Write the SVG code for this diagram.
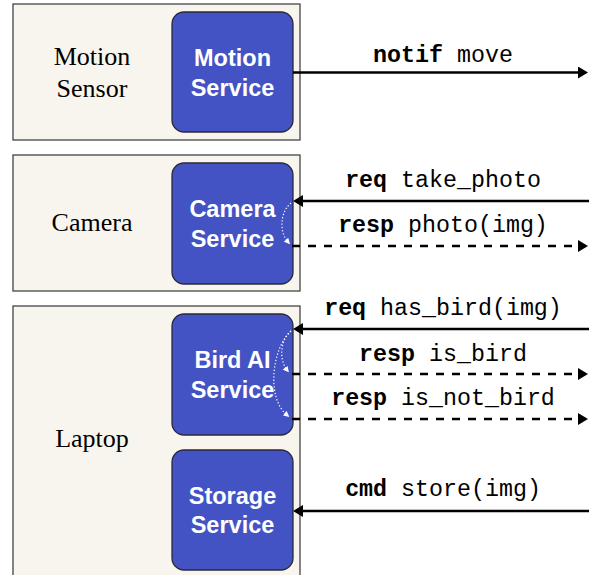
<svg xmlns="http://www.w3.org/2000/svg" width="589" height="575" viewBox="0 0 589 575">
<style>
.dev{fill:#f8f5ee;stroke:#444;stroke-width:1.3}
.svc{fill:#4353c4;stroke:#2a2a3a;stroke-width:1.3}
.dl{font-family:"Liberation Serif","Times New Roman",serif;font-size:26px;fill:#000;text-anchor:middle}
.sl{font-family:"Liberation Sans",Arial,sans-serif;font-weight:bold;font-size:23.5px;fill:#fff;text-anchor:middle}
.ml{font-family:"Liberation Mono","Courier New",monospace;font-size:23.3px;fill:#000;text-anchor:middle}
.b{font-weight:bold}
.ar{stroke:#000;stroke-width:2.6;fill:none;marker-end:url(#ah)}
.da{stroke-dasharray:8 8}
.loop{stroke:#fff;stroke-width:1.2;fill:none;stroke-dasharray:1.3 2;marker-end:url(#wh)}
</style>
<defs>
<marker id="ah" viewBox="0 0 10 12" refX="2" refY="6" markerWidth="10" markerHeight="12" orient="auto" markerUnits="userSpaceOnUse">
<path d="M0,0 L10,6 L0,12 z" fill="#000"/>
</marker>
<marker id="wh" viewBox="0 0 6 6" refX="3" refY="3" markerWidth="6" markerHeight="6" orient="auto" markerUnits="userSpaceOnUse">
<path d="M0,0 L6,3 L0,6 z" fill="#fff"/>
</marker>
</defs>

<g id="motion-sensor">
<rect class="dev" x="13" y="4" width="287" height="136"/>
<text class="dl" x="92" y="65">Motion</text>
<text class="dl" x="92" y="96.5">Sensor</text>
</g>
<g id="motion-service">
<rect class="svc" x="172" y="12" width="121" height="120" rx="12"/>
<text class="sl" x="232.5" y="66">Motion</text>
<text class="sl" x="232.5" y="95.5">Service</text>
</g>

<g id="camera">
<rect class="dev" x="13" y="155" width="287" height="136"/>
<text class="dl" x="92" y="231">Camera</text>
</g>
<g id="camera-service">
<rect class="svc" x="172" y="163" width="121" height="121" rx="12"/>
<text class="sl" x="232.5" y="217">Camera</text>
<text class="sl" x="232.5" y="246.5">Service</text>
</g>

<g id="laptop">
<rect class="dev" x="13" y="306" width="287" height="280"/>
<text class="dl" x="92" y="446.5">Laptop</text>
</g>
<g id="bird-ai-service">
<rect class="svc" x="172" y="314" width="121" height="121" rx="12"/>
<text class="sl" x="232.5" y="368">Bird AI</text>
<text class="sl" x="232.5" y="397.5">Service</text>
</g>
<g id="storage-service">
<rect class="svc" x="172" y="450" width="121" height="120" rx="12"/>
<text class="sl" x="232.5" y="504">Storage</text>
<text class="sl" x="232.5" y="533">Service</text>
</g>

<g id="connectors">
<line class="ar" x1="293" y1="72.5" x2="580" y2="72.5"/>
<text class="ml" x="443" y="62"><tspan class="b">notif</tspan> move</text>

<line class="ar" x1="589" y1="201" x2="301" y2="201"/>
<text class="ml" x="443" y="187"><tspan class="b">req</tspan> take_photo</text>
<line class="ar da" x1="292" y1="246" x2="580" y2="246"/>
<text class="ml" x="443" y="232"><tspan class="b">resp</tspan> photo(img)</text>
<path class="loop" d="M291,203 C280,212 279,232 288,242"/>

<line class="ar" x1="589" y1="329" x2="301" y2="329"/>
<text class="ml" x="443" y="315"><tspan class="b">req</tspan> has_bird(img)</text>
<line class="ar da" x1="292" y1="374" x2="580" y2="374"/>
<text class="ml" x="443" y="361"><tspan class="b">resp</tspan> is_bird</text>
<line class="ar da" x1="292" y1="419" x2="580" y2="419"/>
<text class="ml" x="443" y="405"><tspan class="b">resp</tspan> is_not_bird</text>
<path class="loop" d="M291,331 C280,340 279,360 287,370"/>
<path class="loop" d="M291,331 C272,348 266,398 287,415"/>

<line class="ar" x1="589" y1="511" x2="301" y2="511"/>
<text class="ml" x="443" y="496"><tspan class="b">cmd</tspan> store(img)</text>
</g>
</svg>
